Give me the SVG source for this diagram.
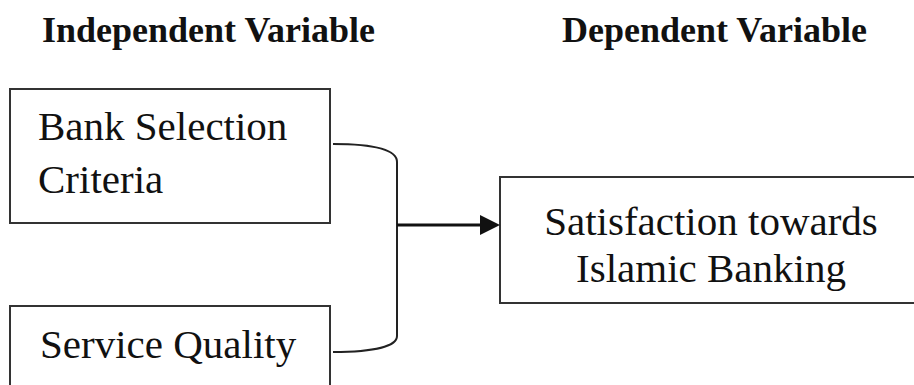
<svg xmlns="http://www.w3.org/2000/svg" width="914" height="385" viewBox="0 0 914 385">
<style>
.box{fill:#fff;stroke:#333;stroke-width:2}
.t{font-family:"Liberation Serif","Times New Roman",serif;font-size:41px;fill:#111}
.h{font-family:"Liberation Serif","Times New Roman",serif;font-size:36px;font-weight:bold;fill:#111}
.c{fill:none;stroke:#222;stroke-width:2}
</style>
<rect width="914" height="385" fill="#fff"/>
<text class="h" x="42" y="42">Independent Variable</text>
<text class="h" x="562" y="42">Dependent Variable</text>
<g id="bank-selection">
<rect class="box" x="10" y="89" width="320" height="134"/>
<text class="t" x="38" y="140">Bank Selection</text>
<text class="t" x="38" y="193">Criteria</text>
</g>
<g id="service-quality">
<rect class="box" x="10" y="306" width="320" height="100"/>
<text class="t" x="40" y="358">Service Quality</text>
</g>
<g id="satisfaction">
<rect class="box" x="500" y="177" width="430" height="126"/>
<text class="t" x="711" y="235" text-anchor="middle">Satisfaction towards</text>
<text class="t" x="711" y="282" text-anchor="middle">Islamic Banking</text>
</g>
<g id="connectors">
<path class="c" d="M333,144 C375,144 397,150 397,162 L397,336 C397,346 375,352 333,352"/>
<line x1="397" y1="225" x2="484" y2="225" stroke="#111" stroke-width="3"/>
<polygon points="480,215 500,225 480,235" fill="#111"/>
</g>
</svg>
